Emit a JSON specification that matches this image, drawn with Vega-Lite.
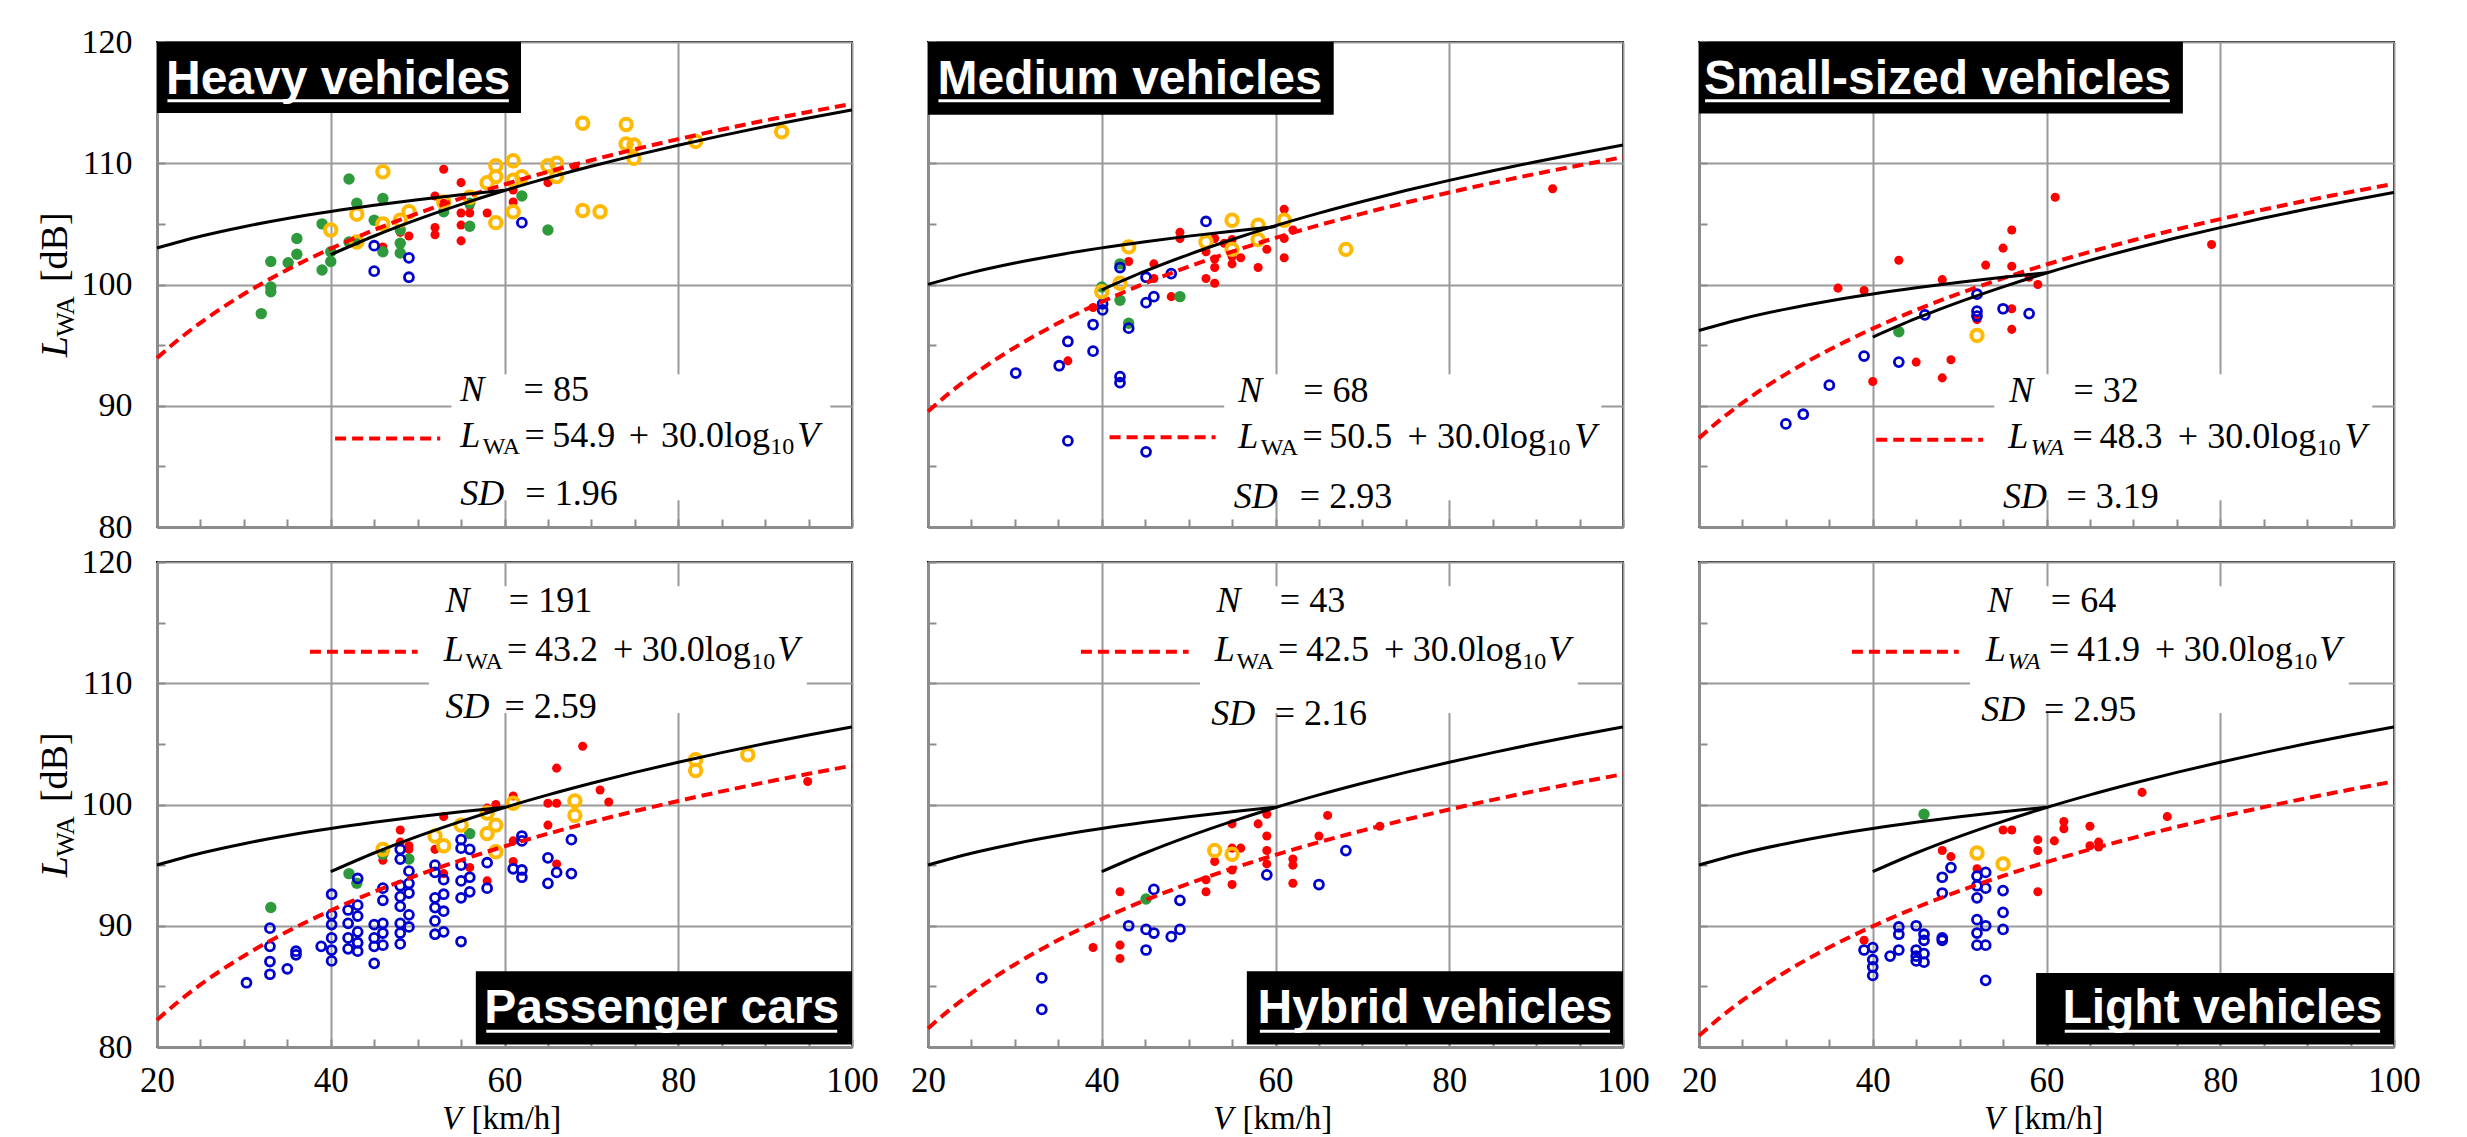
{
"$schema":"https://vega.github.io/schema/vega-lite/v6.json",
"background":"white",
"padding":{"left":35,"top":24,"right":5,"bottom":2},
"datasets":{"d":[
{"p":"H","k":"g","v":42.1,"l":108.7},{"p":"H","k":"g","v":43,"l":106.7},{"p":"H","k":"g","v":46,"l":107.1},{"p":"H","k":"g","v":39,"l":105},{"p":"H","k":"g","v":45,"l":105.3},{"p":"H","k":"g","v":36.1,"l":103.8},{"p":"H","k":"g","v":36.1,"l":102.5},{"p":"H","k":"g","v":33.1,"l":101.9},{"p":"H","k":"g","v":35.1,"l":101.8},{"p":"H","k":"g","v":40,"l":102.7},{"p":"H","k":"g","v":40,"l":101.9},{"p":"H","k":"g","v":39,"l":101.2},{"p":"H","k":"g","v":42.1,"l":103.5},{"p":"H","k":"g","v":43,"l":103.6},{"p":"H","k":"g","v":46,"l":102.7},{"p":"H","k":"g","v":48,"l":103.4},{"p":"H","k":"g","v":48,"l":102.6},{"p":"H","k":"g","v":48,"l":104.5},{"p":"H","k":"g","v":33.1,"l":99.8},{"p":"H","k":"g","v":33.1,"l":99.4},{"p":"H","k":"g","v":32,"l":97.6},{"p":"H","k":"g","v":53,"l":106},{"p":"H","k":"g","v":56,"l":106.7},{"p":"H","k":"g","v":56,"l":104.8},{"p":"H","k":"g","v":62,"l":107.3},{"p":"H","k":"g","v":65,"l":104.5},
{"p":"H","k":"r","v":53,"l":109.5},{"p":"H","k":"r","v":55,"l":108.4},{"p":"H","k":"r","v":52,"l":107.3},{"p":"H","k":"r","v":52,"l":104.7},{"p":"H","k":"r","v":52,"l":104.1},{"p":"H","k":"r","v":55,"l":105.9},{"p":"H","k":"r","v":56,"l":105.9},{"p":"H","k":"r","v":55,"l":104.9},{"p":"H","k":"r","v":55,"l":103.6},{"p":"H","k":"r","v":58,"l":105.9},{"p":"H","k":"r","v":61,"l":107.8},{"p":"H","k":"r","v":61,"l":106.8},{"p":"H","k":"r","v":65,"l":108.4},{"p":"H","k":"r","v":68.1,"l":109.7},{"p":"H","k":"r","v":49,"l":104},{"p":"H","k":"r","v":48,"l":104.3},{"p":"H","k":"r","v":46,"l":103.1},{"p":"H","k":"r","v":56,"l":106.5},{"p":"H","k":"r","v":53,"l":106.7},
{"p":"H","k":"b","v":45,"l":103.2},{"p":"H","k":"b","v":49,"l":102.2},{"p":"H","k":"b","v":45,"l":101.1},{"p":"H","k":"b","v":49,"l":100.6},{"p":"H","k":"b","v":62,"l":105.1},
{"p":"H","k":"o","v":69,"l":113.3},{"p":"H","k":"o","v":74,"l":113.2},{"p":"H","k":"o","v":74,"l":111.6},{"p":"H","k":"o","v":74.9,"l":111.5},{"p":"H","k":"o","v":74.9,"l":110.4},{"p":"H","k":"o","v":82,"l":111.8},{"p":"H","k":"o","v":91.9,"l":112.6},{"p":"H","k":"o","v":46,"l":109.3},{"p":"H","k":"o","v":59,"l":109.8},{"p":"H","k":"o","v":61,"l":110.2},{"p":"H","k":"o","v":59,"l":108.9},{"p":"H","k":"o","v":58,"l":108.4},{"p":"H","k":"o","v":61,"l":108.6},{"p":"H","k":"o","v":62,"l":108.9},{"p":"H","k":"o","v":65,"l":109.8},{"p":"H","k":"o","v":66,"l":110},{"p":"H","k":"o","v":66,"l":108.9},{"p":"H","k":"o","v":43,"l":105.8},{"p":"H","k":"o","v":40,"l":104.5},{"p":"H","k":"o","v":43,"l":103.5},{"p":"H","k":"o","v":46,"l":105},{"p":"H","k":"o","v":48,"l":105.3},{"p":"H","k":"o","v":49,"l":106},{"p":"H","k":"o","v":53,"l":106.8},{"p":"H","k":"o","v":56,"l":107.2},{"p":"H","k":"o","v":59,"l":105.1},{"p":"H","k":"o","v":61,"l":106},{"p":"H","k":"o","v":69,"l":106.1},{"p":"H","k":"o","v":71,"l":106},

{"p":"M","k":"b","v":30.1,"l":92.7},{"p":"M","k":"b","v":35.1,"l":93.3},{"p":"M","k":"b","v":36.1,"l":95.3},{"p":"M","k":"b","v":39,"l":96.7},{"p":"M","k":"b","v":39,"l":94.5},{"p":"M","k":"b","v":40.1,"l":97.9},{"p":"M","k":"b","v":40.1,"l":98.4},{"p":"M","k":"b","v":42.1,"l":101.4},{"p":"M","k":"b","v":45.1,"l":100.6},{"p":"M","k":"b","v":48,"l":100.9},{"p":"M","k":"b","v":46,"l":99},{"p":"M","k":"b","v":45.1,"l":98.5},{"p":"M","k":"b","v":43.1,"l":96.4},{"p":"M","k":"b","v":42.1,"l":92.4},{"p":"M","k":"b","v":42.1,"l":91.9},{"p":"M","k":"b","v":52,"l":105.2},{"p":"M","k":"b","v":36.1,"l":87.1},{"p":"M","k":"b","v":45.1,"l":86.2},
{"p":"M","k":"g","v":42.1,"l":101.7},{"p":"M","k":"g","v":40,"l":99.8},{"p":"M","k":"g","v":42.1,"l":98.7},{"p":"M","k":"g","v":43.1,"l":96.8},{"p":"M","k":"g","v":49,"l":99},
{"p":"M","k":"r","v":43.1,"l":101.9},{"p":"M","k":"r","v":46,"l":101.7},{"p":"M","k":"r","v":46,"l":100.5},{"p":"M","k":"r","v":48,"l":99},{"p":"M","k":"r","v":39,"l":98.1},{"p":"M","k":"r","v":36.1,"l":93.7},{"p":"M","k":"r","v":49,"l":104.3},{"p":"M","k":"r","v":49,"l":103.8},{"p":"M","k":"r","v":53,"l":103.8},{"p":"M","k":"r","v":52,"l":102.7},{"p":"M","k":"r","v":53,"l":102.1},{"p":"M","k":"r","v":53,"l":101.4},{"p":"M","k":"r","v":52,"l":100.5},{"p":"M","k":"r","v":53,"l":100.1},{"p":"M","k":"r","v":55,"l":103.7},{"p":"M","k":"r","v":55,"l":101.7},{"p":"M","k":"r","v":56,"l":102.2},{"p":"M","k":"r","v":55,"l":102.3},{"p":"M","k":"r","v":58,"l":101.4},{"p":"M","k":"r","v":59,"l":102.9},{"p":"M","k":"r","v":61,"l":106.2},{"p":"M","k":"r","v":61,"l":103.8},{"p":"M","k":"r","v":61,"l":102.2},{"p":"M","k":"r","v":62,"l":104.5},{"p":"M","k":"r","v":54.1,"l":103.4},{"p":"M","k":"r","v":91.9,"l":107.9},
{"p":"M","k":"o","v":43.1,"l":103.1},{"p":"M","k":"o","v":42.1,"l":100.1},{"p":"M","k":"o","v":40,"l":99.4},{"p":"M","k":"o","v":52,"l":103.5},{"p":"M","k":"o","v":55,"l":105.3},{"p":"M","k":"o","v":55,"l":102.9},{"p":"M","k":"o","v":58,"l":104.9},{"p":"M","k":"o","v":58,"l":103.7},{"p":"M","k":"o","v":61,"l":105.3},{"p":"M","k":"o","v":68.1,"l":102.9},

{"p":"S","k":"r","v":61,"l":107.2},{"p":"S","k":"r","v":56,"l":104.5},{"p":"S","k":"r","v":55,"l":103},{"p":"S","k":"r","v":43,"l":102},{"p":"S","k":"r","v":53,"l":101.6},{"p":"S","k":"r","v":56,"l":101.5},{"p":"S","k":"r","v":48,"l":100.4},{"p":"S","k":"r","v":58,"l":100.6},{"p":"S","k":"r","v":59,"l":100},{"p":"S","k":"r","v":36,"l":99.7},{"p":"S","k":"r","v":39,"l":99.5},{"p":"S","k":"r","v":79,"l":103.3},{"p":"S","k":"r","v":56,"l":98},{"p":"S","k":"r","v":52,"l":97.1},{"p":"S","k":"r","v":56,"l":96.3},{"p":"S","k":"r","v":45,"l":93.6},{"p":"S","k":"r","v":49,"l":93.8},{"p":"S","k":"r","v":48,"l":92.3},{"p":"S","k":"r","v":40,"l":92},
{"p":"S","k":"b","v":52,"l":99.2},{"p":"S","k":"b","v":52,"l":97.8},{"p":"S","k":"b","v":52,"l":97.4},{"p":"S","k":"b","v":55,"l":98},{"p":"S","k":"b","v":58,"l":97.6},{"p":"S","k":"b","v":46,"l":97.5},{"p":"S","k":"b","v":39,"l":94.1},{"p":"S","k":"b","v":43,"l":93.6},{"p":"S","k":"b","v":35,"l":91.7},{"p":"S","k":"b","v":32,"l":89.3},{"p":"S","k":"b","v":30,"l":88.5},
{"p":"S","k":"g","v":43,"l":96.1},{"p":"S","k":"o","v":52,"l":95.8},

{"p":"P","k":"r","v":48,"l":97.9},{"p":"P","k":"r","v":48,"l":96.9},{"p":"P","k":"r","v":49,"l":96.6},{"p":"P","k":"r","v":49,"l":96.3},{"p":"P","k":"r","v":46,"l":95.4},{"p":"P","k":"r","v":53,"l":99},{"p":"P","k":"r","v":52,"l":96.3},{"p":"P","k":"r","v":59,"l":100},{"p":"P","k":"r","v":61,"l":100.7},{"p":"P","k":"r","v":65,"l":100.1},{"p":"P","k":"r","v":66,"l":100.1},{"p":"P","k":"r","v":65,"l":98.3},{"p":"P","k":"r","v":61,"l":97},{"p":"P","k":"r","v":61,"l":95.3},{"p":"P","k":"r","v":58,"l":93.7},{"p":"P","k":"r","v":56,"l":94.8},{"p":"P","k":"r","v":66,"l":95.1},{"p":"P","k":"r","v":69,"l":104.8},{"p":"P","k":"r","v":66,"l":103},{"p":"P","k":"r","v":71,"l":101.2},{"p":"P","k":"r","v":72,"l":100.2},{"p":"P","k":"r","v":94.9,"l":101.9},{"p":"P","k":"r","v":53,"l":94.3},{"p":"P","k":"r","v":58,"l":99.7},
{"p":"P","k":"g","v":33.1,"l":91.5},{"p":"P","k":"g","v":42.1,"l":94.3},{"p":"P","k":"g","v":43,"l":93.5},{"p":"P","k":"g","v":49,"l":95.5},{"p":"P","k":"g","v":56,"l":97.6},{"p":"P","k":"g","v":46,"l":95.9},
{"p":"P","k":"b","v":33,"l":89.8},{"p":"P","k":"b","v":33,"l":88.3},{"p":"P","k":"b","v":33,"l":87.05},{"p":"P","k":"b","v":33,"l":86},{"p":"P","k":"b","v":30.3,"l":85.3},{"p":"P","k":"b","v":35,"l":86.45},{"p":"P","k":"b","v":36,"l":87.9},{"p":"P","k":"b","v":36,"l":87.6},{"p":"P","k":"b","v":38.9,"l":88.3},
{"p":"P","k":"b","v":40.1,"l":92.6},{"p":"P","k":"b","v":40.1,"l":90.9},{"p":"P","k":"b","v":40.1,"l":90.1},{"p":"P","k":"b","v":40.1,"l":89},{"p":"P","k":"b","v":40.1,"l":88},{"p":"P","k":"b","v":40.1,"l":87.1},
{"p":"P","k":"b","v":42,"l":91.3},{"p":"P","k":"b","v":42,"l":90.2},{"p":"P","k":"b","v":42,"l":89},{"p":"P","k":"b","v":42,"l":88.1},
{"p":"P","k":"b","v":43.1,"l":93.9},{"p":"P","k":"b","v":43.1,"l":91.7},{"p":"P","k":"b","v":43.1,"l":90.8},{"p":"P","k":"b","v":43.1,"l":89.5},{"p":"P","k":"b","v":43.1,"l":88.6},{"p":"P","k":"b","v":43.1,"l":87.9},
{"p":"P","k":"b","v":45,"l":90.1},{"p":"P","k":"b","v":45,"l":89},{"p":"P","k":"b","v":45,"l":88.3},{"p":"P","k":"b","v":45,"l":86.9},
{"p":"P","k":"b","v":46,"l":93.1},{"p":"P","k":"b","v":46,"l":92.1},{"p":"P","k":"b","v":46,"l":90.2},{"p":"P","k":"b","v":46,"l":89.4},{"p":"P","k":"b","v":46,"l":88.4},
{"p":"P","k":"b","v":48,"l":96.3},{"p":"P","k":"b","v":48,"l":95.5},{"p":"P","k":"b","v":48,"l":93.3},{"p":"P","k":"b","v":48,"l":92.4},{"p":"P","k":"b","v":48,"l":91.6},{"p":"P","k":"b","v":48,"l":90.2},{"p":"P","k":"b","v":48,"l":89.4},{"p":"P","k":"b","v":48,"l":88.5},
{"p":"P","k":"b","v":49,"l":94.5},{"p":"P","k":"b","v":49,"l":93.5},{"p":"P","k":"b","v":49,"l":92.7},{"p":"P","k":"b","v":49,"l":90.9},{"p":"P","k":"b","v":49,"l":89.9},
{"p":"P","k":"b","v":52,"l":95},{"p":"P","k":"b","v":52,"l":94.4},{"p":"P","k":"b","v":52,"l":92.3},{"p":"P","k":"b","v":52,"l":91.5},{"p":"P","k":"b","v":52,"l":90.4},{"p":"P","k":"b","v":52,"l":89.3},
{"p":"P","k":"b","v":53,"l":93.8},{"p":"P","k":"b","v":53,"l":92.6},{"p":"P","k":"b","v":53,"l":91.2},{"p":"P","k":"b","v":53,"l":89.5},
{"p":"P","k":"b","v":55,"l":97.1},{"p":"P","k":"b","v":55,"l":96.4},{"p":"P","k":"b","v":55,"l":95},{"p":"P","k":"b","v":55,"l":93.7},{"p":"P","k":"b","v":55,"l":92.3},{"p":"P","k":"b","v":55,"l":88.7},
{"p":"P","k":"b","v":56,"l":96.3},{"p":"P","k":"b","v":56,"l":94},{"p":"P","k":"b","v":56,"l":92.8},
{"p":"P","k":"b","v":58,"l":95.2},{"p":"P","k":"b","v":58,"l":93.1},{"p":"P","k":"b","v":61,"l":94.7},
{"p":"P","k":"b","v":62,"l":97.4},{"p":"P","k":"b","v":62,"l":97},{"p":"P","k":"b","v":62,"l":94.6},{"p":"P","k":"b","v":62,"l":94},
{"p":"P","k":"b","v":65,"l":95.6},{"p":"P","k":"b","v":65,"l":93.5},{"p":"P","k":"b","v":66,"l":94.4},{"p":"P","k":"b","v":67.7,"l":97.1},{"p":"P","k":"b","v":67.7,"l":94.3},
{"p":"P","k":"o","v":46,"l":96.3},{"p":"P","k":"o","v":52,"l":97.4},{"p":"P","k":"o","v":53,"l":96.6},{"p":"P","k":"o","v":55,"l":98.3},{"p":"P","k":"o","v":58,"l":99.3},{"p":"P","k":"o","v":59,"l":98.3},{"p":"P","k":"o","v":58,"l":97.6},{"p":"P","k":"o","v":59,"l":96.1},{"p":"P","k":"o","v":61,"l":100.1},{"p":"P","k":"o","v":68.1,"l":100.3},{"p":"P","k":"o","v":68.1,"l":99.1},{"p":"P","k":"o","v":82,"l":103.7},{"p":"P","k":"o","v":82,"l":102.8},{"p":"P","k":"o","v":88,"l":104.1},

{"p":"Y","k":"r","v":59,"l":99.2},{"p":"Y","k":"r","v":55,"l":98.4},{"p":"Y","k":"r","v":58,"l":98.4},{"p":"Y","k":"r","v":66,"l":99.1},{"p":"Y","k":"r","v":59,"l":97.4},{"p":"Y","k":"r","v":65,"l":97.4},{"p":"Y","k":"r","v":72,"l":98.2},{"p":"Y","k":"r","v":56,"l":96.4},{"p":"Y","k":"r","v":59,"l":96.2},{"p":"Y","k":"r","v":55,"l":96.4},{"p":"Y","k":"r","v":62,"l":95.5},{"p":"Y","k":"r","v":62,"l":95},{"p":"Y","k":"r","v":53,"l":95.3},{"p":"Y","k":"r","v":59,"l":95.1},{"p":"Y","k":"r","v":55,"l":94.6},{"p":"Y","k":"r","v":52,"l":93.8},{"p":"Y","k":"r","v":52,"l":92.8},{"p":"Y","k":"r","v":55,"l":93.4},{"p":"Y","k":"r","v":62,"l":93.5},{"p":"Y","k":"r","v":42.1,"l":92.8},{"p":"Y","k":"r","v":39,"l":88.2},{"p":"Y","k":"r","v":42.1,"l":88.4},{"p":"Y","k":"r","v":42.1,"l":87.3},
{"p":"Y","k":"b","v":46,"l":93},{"p":"Y","k":"b","v":49,"l":92.1},{"p":"Y","k":"b","v":43.1,"l":90},{"p":"Y","k":"b","v":45.1,"l":89.7},{"p":"Y","k":"b","v":46,"l":89.4},{"p":"Y","k":"b","v":48,"l":89.1},{"p":"Y","k":"b","v":49,"l":89.7},{"p":"Y","k":"b","v":45.1,"l":88},{"p":"Y","k":"b","v":59,"l":94.2},{"p":"Y","k":"b","v":65,"l":93.4},{"p":"Y","k":"b","v":68.1,"l":96.2},{"p":"Y","k":"b","v":33.1,"l":85.7},{"p":"Y","k":"b","v":33.1,"l":83.1},
{"p":"Y","k":"g","v":45.1,"l":92.2},{"p":"Y","k":"o","v":53,"l":96.2},{"p":"Y","k":"o","v":55,"l":95.9},

{"p":"L","k":"b","v":39,"l":88},{"p":"L","k":"b","v":40,"l":88.2},{"p":"L","k":"b","v":40,"l":87.2},{"p":"L","k":"b","v":40,"l":86.6},{"p":"L","k":"b","v":40,"l":85.9},{"p":"L","k":"b","v":42,"l":87.5},{"p":"L","k":"b","v":43,"l":89.9},{"p":"L","k":"b","v":43,"l":89.3},{"p":"L","k":"b","v":43,"l":88},{"p":"L","k":"b","v":45,"l":90},{"p":"L","k":"b","v":45,"l":88},{"p":"L","k":"b","v":45,"l":87.5},{"p":"L","k":"b","v":45,"l":87.1},{"p":"L","k":"b","v":45.9,"l":89.3},{"p":"L","k":"b","v":45.9,"l":88.8},{"p":"L","k":"b","v":45.9,"l":87.7},{"p":"L","k":"b","v":45.9,"l":87},{"p":"L","k":"b","v":48,"l":89},{"p":"L","k":"b","v":48,"l":88.8},{"p":"L","k":"b","v":48,"l":94},{"p":"L","k":"b","v":48,"l":92.7},{"p":"L","k":"b","v":49,"l":94.8},{"p":"L","k":"b","v":52,"l":94.1},{"p":"L","k":"b","v":52,"l":93.3},{"p":"L","k":"b","v":52,"l":92.3},{"p":"L","k":"b","v":52,"l":90.5},{"p":"L","k":"b","v":52,"l":89.4},{"p":"L","k":"b","v":52,"l":88.4},{"p":"L","k":"b","v":53,"l":94.4},{"p":"L","k":"b","v":53,"l":93.1},{"p":"L","k":"b","v":53,"l":90},{"p":"L","k":"b","v":53,"l":88.4},{"p":"L","k":"b","v":53,"l":85.5},{"p":"L","k":"b","v":55,"l":92.9},{"p":"L","k":"b","v":55,"l":91.1},{"p":"L","k":"b","v":55,"l":89.7},
{"p":"L","k":"r","v":39,"l":88.8},{"p":"L","k":"r","v":48,"l":96.2},{"p":"L","k":"r","v":49,"l":95.7},{"p":"L","k":"r","v":52,"l":94.7},{"p":"L","k":"r","v":55,"l":97.9},{"p":"L","k":"r","v":56,"l":97.9},{"p":"L","k":"r","v":59,"l":97.1},{"p":"L","k":"r","v":59,"l":96.2},{"p":"L","k":"r","v":59,"l":92.8},{"p":"L","k":"r","v":60.9,"l":97},{"p":"L","k":"r","v":62,"l":98.6},{"p":"L","k":"r","v":62,"l":98},{"p":"L","k":"r","v":65,"l":98.2},{"p":"L","k":"r","v":65,"l":96.6},{"p":"L","k":"r","v":66,"l":96.9},{"p":"L","k":"r","v":66,"l":96.5},{"p":"L","k":"r","v":71,"l":101},{"p":"L","k":"r","v":73.9,"l":99},
{"p":"L","k":"g","v":45.9,"l":99.2},{"p":"L","k":"o","v":52,"l":96},{"p":"L","k":"o","v":55,"l":95.1},

{"p":"H","k":"fit","v":20,"l":93.93},{"p":"H","k":"fit","v":22.5,"l":95.47},{"p":"H","k":"fit","v":25,"l":96.84},{"p":"H","k":"fit","v":27.5,"l":98.08},{"p":"H","k":"fit","v":30,"l":99.21},{"p":"H","k":"fit","v":35,"l":101.22},{"p":"H","k":"fit","v":40,"l":102.96},{"p":"H","k":"fit","v":45,"l":104.5},{"p":"H","k":"fit","v":50,"l":105.87},{"p":"H","k":"fit","v":55,"l":107.11},{"p":"H","k":"fit","v":60,"l":108.25},{"p":"H","k":"fit","v":65,"l":109.29},{"p":"H","k":"fit","v":70,"l":110.25},{"p":"H","k":"fit","v":75,"l":111.15},{"p":"H","k":"fit","v":80,"l":111.99},{"p":"H","k":"fit","v":85,"l":112.78},{"p":"H","k":"fit","v":90,"l":113.53},{"p":"H","k":"fit","v":95,"l":114.23},{"p":"H","k":"fit","v":100,"l":114.9},
{"p":"M","k":"fit","v":20,"l":89.53},{"p":"M","k":"fit","v":22.5,"l":91.07},{"p":"M","k":"fit","v":25,"l":92.44},{"p":"M","k":"fit","v":27.5,"l":93.68},{"p":"M","k":"fit","v":30,"l":94.81},{"p":"M","k":"fit","v":35,"l":96.82},{"p":"M","k":"fit","v":40,"l":98.56},{"p":"M","k":"fit","v":45,"l":100.1},{"p":"M","k":"fit","v":50,"l":101.47},{"p":"M","k":"fit","v":55,"l":102.71},{"p":"M","k":"fit","v":60,"l":103.85},{"p":"M","k":"fit","v":65,"l":104.89},{"p":"M","k":"fit","v":70,"l":105.85},{"p":"M","k":"fit","v":75,"l":106.75},{"p":"M","k":"fit","v":80,"l":107.59},{"p":"M","k":"fit","v":85,"l":108.38},{"p":"M","k":"fit","v":90,"l":109.13},{"p":"M","k":"fit","v":95,"l":109.83},{"p":"M","k":"fit","v":100,"l":110.5},
{"p":"S","k":"fit","v":20,"l":87.33},{"p":"S","k":"fit","v":22.5,"l":88.87},{"p":"S","k":"fit","v":25,"l":90.24},{"p":"S","k":"fit","v":27.5,"l":91.48},{"p":"S","k":"fit","v":30,"l":92.61},{"p":"S","k":"fit","v":35,"l":94.62},{"p":"S","k":"fit","v":40,"l":96.36},{"p":"S","k":"fit","v":45,"l":97.9},{"p":"S","k":"fit","v":50,"l":99.27},{"p":"S","k":"fit","v":55,"l":100.51},{"p":"S","k":"fit","v":60,"l":101.65},{"p":"S","k":"fit","v":65,"l":102.69},{"p":"S","k":"fit","v":70,"l":103.65},{"p":"S","k":"fit","v":75,"l":104.55},{"p":"S","k":"fit","v":80,"l":105.39},{"p":"S","k":"fit","v":85,"l":106.18},{"p":"S","k":"fit","v":90,"l":106.93},{"p":"S","k":"fit","v":95,"l":107.63},{"p":"S","k":"fit","v":100,"l":108.3},
{"p":"P","k":"fit","v":20,"l":82.23},{"p":"P","k":"fit","v":22.5,"l":83.77},{"p":"P","k":"fit","v":25,"l":85.14},{"p":"P","k":"fit","v":27.5,"l":86.38},{"p":"P","k":"fit","v":30,"l":87.51},{"p":"P","k":"fit","v":35,"l":89.52},{"p":"P","k":"fit","v":40,"l":91.26},{"p":"P","k":"fit","v":45,"l":92.8},{"p":"P","k":"fit","v":50,"l":94.17},{"p":"P","k":"fit","v":55,"l":95.41},{"p":"P","k":"fit","v":60,"l":96.55},{"p":"P","k":"fit","v":65,"l":97.59},{"p":"P","k":"fit","v":70,"l":98.55},{"p":"P","k":"fit","v":75,"l":99.45},{"p":"P","k":"fit","v":80,"l":100.29},{"p":"P","k":"fit","v":85,"l":101.08},{"p":"P","k":"fit","v":90,"l":101.83},{"p":"P","k":"fit","v":95,"l":102.53},{"p":"P","k":"fit","v":100,"l":103.2},
{"p":"Y","k":"fit","v":20,"l":81.53},{"p":"Y","k":"fit","v":22.5,"l":83.07},{"p":"Y","k":"fit","v":25,"l":84.44},{"p":"Y","k":"fit","v":27.5,"l":85.68},{"p":"Y","k":"fit","v":30,"l":86.81},{"p":"Y","k":"fit","v":35,"l":88.82},{"p":"Y","k":"fit","v":40,"l":90.56},{"p":"Y","k":"fit","v":45,"l":92.1},{"p":"Y","k":"fit","v":50,"l":93.47},{"p":"Y","k":"fit","v":55,"l":94.71},{"p":"Y","k":"fit","v":60,"l":95.85},{"p":"Y","k":"fit","v":65,"l":96.89},{"p":"Y","k":"fit","v":70,"l":97.85},{"p":"Y","k":"fit","v":75,"l":98.75},{"p":"Y","k":"fit","v":80,"l":99.59},{"p":"Y","k":"fit","v":85,"l":100.38},{"p":"Y","k":"fit","v":90,"l":101.13},{"p":"Y","k":"fit","v":95,"l":101.83},{"p":"Y","k":"fit","v":100,"l":102.5},
{"p":"L","k":"fit","v":20,"l":80.93},{"p":"L","k":"fit","v":22.5,"l":82.47},{"p":"L","k":"fit","v":25,"l":83.84},{"p":"L","k":"fit","v":27.5,"l":85.08},{"p":"L","k":"fit","v":30,"l":86.21},{"p":"L","k":"fit","v":35,"l":88.22},{"p":"L","k":"fit","v":40,"l":89.96},{"p":"L","k":"fit","v":45,"l":91.5},{"p":"L","k":"fit","v":50,"l":92.87},{"p":"L","k":"fit","v":55,"l":94.11},{"p":"L","k":"fit","v":60,"l":95.25},{"p":"L","k":"fit","v":65,"l":96.29},{"p":"L","k":"fit","v":70,"l":97.25},{"p":"L","k":"fit","v":75,"l":98.15},{"p":"L","k":"fit","v":80,"l":98.99},{"p":"L","k":"fit","v":85,"l":99.78},{"p":"L","k":"fit","v":90,"l":100.53},{"p":"L","k":"fit","v":95,"l":101.23},{"p":"L","k":"fit","v":100,"l":101.9},

{"p":"H","k":"ref","s":"ns","v":20,"l":103.01},{"p":"H","k":"ref","s":"ns","v":25,"l":103.98},{"p":"H","k":"ref","s":"ns","v":30,"l":104.77},{"p":"H","k":"ref","s":"ns","v":35,"l":105.44},{"p":"H","k":"ref","s":"ns","v":40,"l":106.02},{"p":"H","k":"ref","s":"ns","v":45,"l":106.53},{"p":"H","k":"ref","s":"ns","v":50,"l":106.99},{"p":"H","k":"ref","s":"ns","v":55,"l":107.4},{"p":"H","k":"ref","s":"ns","v":60,"l":107.78},
{"p":"H","k":"ref","s":"st","v":40,"l":102.46},{"p":"H","k":"ref","s":"st","v":45,"l":104},{"p":"H","k":"ref","s":"st","v":50,"l":105.37},{"p":"H","k":"ref","s":"st","v":55,"l":106.61},{"p":"H","k":"ref","s":"st","v":60,"l":107.75},{"p":"H","k":"ref","s":"st","v":65,"l":108.79},{"p":"H","k":"ref","s":"st","v":70,"l":109.75},{"p":"H","k":"ref","s":"st","v":75,"l":110.65},{"p":"H","k":"ref","s":"st","v":80,"l":111.49},{"p":"H","k":"ref","s":"st","v":85,"l":112.28},{"p":"H","k":"ref","s":"st","v":90,"l":113.03},{"p":"H","k":"ref","s":"st","v":95,"l":113.73},{"p":"H","k":"ref","s":"st","v":100,"l":114.4},
{"p":"M","k":"ref","s":"ns","v":20,"l":100.01},{"p":"M","k":"ref","s":"ns","v":25,"l":100.98},{"p":"M","k":"ref","s":"ns","v":30,"l":101.77},{"p":"M","k":"ref","s":"ns","v":35,"l":102.44},{"p":"M","k":"ref","s":"ns","v":40,"l":103.02},{"p":"M","k":"ref","s":"ns","v":45,"l":103.53},{"p":"M","k":"ref","s":"ns","v":50,"l":103.99},{"p":"M","k":"ref","s":"ns","v":55,"l":104.4},{"p":"M","k":"ref","s":"ns","v":60,"l":104.78},
{"p":"M","k":"ref","s":"st","v":40,"l":99.56},{"p":"M","k":"ref","s":"st","v":45,"l":101.1},{"p":"M","k":"ref","s":"st","v":50,"l":102.47},{"p":"M","k":"ref","s":"st","v":55,"l":103.71},{"p":"M","k":"ref","s":"st","v":60,"l":104.85},{"p":"M","k":"ref","s":"st","v":65,"l":105.89},{"p":"M","k":"ref","s":"st","v":70,"l":106.85},{"p":"M","k":"ref","s":"st","v":75,"l":107.75},{"p":"M","k":"ref","s":"st","v":80,"l":108.59},{"p":"M","k":"ref","s":"st","v":85,"l":109.38},{"p":"M","k":"ref","s":"st","v":90,"l":110.13},{"p":"M","k":"ref","s":"st","v":95,"l":110.83},{"p":"M","k":"ref","s":"st","v":100,"l":111.5},
{"p":"S","k":"ref","s":"ns","v":20,"l":96.21},{"p":"S","k":"ref","s":"ns","v":25,"l":97.18},{"p":"S","k":"ref","s":"ns","v":30,"l":97.97},{"p":"S","k":"ref","s":"ns","v":35,"l":98.64},{"p":"S","k":"ref","s":"ns","v":40,"l":99.22},{"p":"S","k":"ref","s":"ns","v":45,"l":99.73},{"p":"S","k":"ref","s":"ns","v":50,"l":100.19},{"p":"S","k":"ref","s":"ns","v":55,"l":100.6},{"p":"S","k":"ref","s":"ns","v":60,"l":100.98},
{"p":"S","k":"ref","s":"st","v":40,"l":95.66},{"p":"S","k":"ref","s":"st","v":45,"l":97.2},{"p":"S","k":"ref","s":"st","v":50,"l":98.57},{"p":"S","k":"ref","s":"st","v":55,"l":99.81},{"p":"S","k":"ref","s":"st","v":60,"l":100.95},{"p":"S","k":"ref","s":"st","v":65,"l":101.99},{"p":"S","k":"ref","s":"st","v":70,"l":102.95},{"p":"S","k":"ref","s":"st","v":75,"l":103.85},{"p":"S","k":"ref","s":"st","v":80,"l":104.69},{"p":"S","k":"ref","s":"st","v":85,"l":105.48},{"p":"S","k":"ref","s":"st","v":90,"l":106.23},{"p":"S","k":"ref","s":"st","v":95,"l":106.93},{"p":"S","k":"ref","s":"st","v":100,"l":107.6},
{"p":"P","k":"ref","s":"ns","v":20,"l":95.01},{"p":"P","k":"ref","s":"ns","v":25,"l":95.98},{"p":"P","k":"ref","s":"ns","v":30,"l":96.77},{"p":"P","k":"ref","s":"ns","v":35,"l":97.44},{"p":"P","k":"ref","s":"ns","v":40,"l":98.02},{"p":"P","k":"ref","s":"ns","v":45,"l":98.53},{"p":"P","k":"ref","s":"ns","v":50,"l":98.99},{"p":"P","k":"ref","s":"ns","v":55,"l":99.4},{"p":"P","k":"ref","s":"ns","v":60,"l":99.78},
{"p":"P","k":"ref","s":"st","v":40,"l":94.46},{"p":"P","k":"ref","s":"st","v":45,"l":96},{"p":"P","k":"ref","s":"st","v":50,"l":97.37},{"p":"P","k":"ref","s":"st","v":55,"l":98.61},{"p":"P","k":"ref","s":"st","v":60,"l":99.75},{"p":"P","k":"ref","s":"st","v":65,"l":100.79},{"p":"P","k":"ref","s":"st","v":70,"l":101.75},{"p":"P","k":"ref","s":"st","v":75,"l":102.65},{"p":"P","k":"ref","s":"st","v":80,"l":103.49},{"p":"P","k":"ref","s":"st","v":85,"l":104.28},{"p":"P","k":"ref","s":"st","v":90,"l":105.03},{"p":"P","k":"ref","s":"st","v":95,"l":105.73},{"p":"P","k":"ref","s":"st","v":100,"l":106.4},
{"p":"Y","k":"ref","s":"ns","v":20,"l":95.01},{"p":"Y","k":"ref","s":"ns","v":25,"l":95.98},{"p":"Y","k":"ref","s":"ns","v":30,"l":96.77},{"p":"Y","k":"ref","s":"ns","v":35,"l":97.44},{"p":"Y","k":"ref","s":"ns","v":40,"l":98.02},{"p":"Y","k":"ref","s":"ns","v":45,"l":98.53},{"p":"Y","k":"ref","s":"ns","v":50,"l":98.99},{"p":"Y","k":"ref","s":"ns","v":55,"l":99.4},{"p":"Y","k":"ref","s":"ns","v":60,"l":99.78},
{"p":"Y","k":"ref","s":"st","v":40,"l":94.46},{"p":"Y","k":"ref","s":"st","v":45,"l":96},{"p":"Y","k":"ref","s":"st","v":50,"l":97.37},{"p":"Y","k":"ref","s":"st","v":55,"l":98.61},{"p":"Y","k":"ref","s":"st","v":60,"l":99.75},{"p":"Y","k":"ref","s":"st","v":65,"l":100.79},{"p":"Y","k":"ref","s":"st","v":70,"l":101.75},{"p":"Y","k":"ref","s":"st","v":75,"l":102.65},{"p":"Y","k":"ref","s":"st","v":80,"l":103.49},{"p":"Y","k":"ref","s":"st","v":85,"l":104.28},{"p":"Y","k":"ref","s":"st","v":90,"l":105.03},{"p":"Y","k":"ref","s":"st","v":95,"l":105.73},{"p":"Y","k":"ref","s":"st","v":100,"l":106.4},
{"p":"L","k":"ref","s":"ns","v":20,"l":95.01},{"p":"L","k":"ref","s":"ns","v":25,"l":95.98},{"p":"L","k":"ref","s":"ns","v":30,"l":96.77},{"p":"L","k":"ref","s":"ns","v":35,"l":97.44},{"p":"L","k":"ref","s":"ns","v":40,"l":98.02},{"p":"L","k":"ref","s":"ns","v":45,"l":98.53},{"p":"L","k":"ref","s":"ns","v":50,"l":98.99},{"p":"L","k":"ref","s":"ns","v":55,"l":99.4},{"p":"L","k":"ref","s":"ns","v":60,"l":99.78},
{"p":"L","k":"ref","s":"st","v":40,"l":94.46},{"p":"L","k":"ref","s":"st","v":45,"l":96},{"p":"L","k":"ref","s":"st","v":50,"l":97.37},{"p":"L","k":"ref","s":"st","v":55,"l":98.61},{"p":"L","k":"ref","s":"st","v":60,"l":99.75},{"p":"L","k":"ref","s":"st","v":65,"l":100.79},{"p":"L","k":"ref","s":"st","v":70,"l":101.75},{"p":"L","k":"ref","s":"st","v":75,"l":102.65},{"p":"L","k":"ref","s":"st","v":80,"l":103.49},{"p":"L","k":"ref","s":"st","v":85,"l":104.28},{"p":"L","k":"ref","s":"st","v":90,"l":105.03},{"p":"L","k":"ref","s":"st","v":95,"l":105.73},{"p":"L","k":"ref","s":"st","v":100,"l":106.4},

{"p":"H","k":"wb","v":53.9,"v2":97.5,"l":82.2,"l2":92.6},
{"p":"H","k":"lg","v":40.5,"v2":52.6,"l":87.3},
{"p":"H","k":"tb","v":20,"v2":61.9,"l":114.15,"l2":120},
{"p":"H","k":"tt","v":40.85,"l":115.7,"t":"Heavy vehicles"},
{"p":"H","k":"tu","v":21.2,"v2":60.5,"l":115.15},
{"p":"H","k":"ai","v":54.9,"l":90.4,"t":"N"},{"p":"H","k":"ai","v":54.9,"l":86.6,"t":"L"},{"p":"H","k":"ai","v":93.7,"l":86.6,"t":"V"},{"p":"H","k":"ai","v":54.9,"l":81.8,"t":"SD"},
{"p":"H","k":"an","v":62.2,"l":90.4,"t":"= 85"},{"p":"H","k":"an","v":62.3,"l":86.6,"t":"="},{"p":"H","k":"an","v":65.5,"l":86.6,"t":"54.9"},{"p":"H","k":"an","v":74.3,"l":86.6,"t":"+"},{"p":"H","k":"an","v":78.0,"l":86.6,"t":"30.0log"},{"p":"H","k":"an","v":62.4,"l":81.8,"t":"= 1.96"},
{"p":"H","k":"as","v":57.5,"l":86.0,"t":"WA"},{"p":"H","k":"as","v":90.6,"l":86.0,"t":"10"},
{"p":"H","k":"yi","v":9.6,"l":94.0,"t":"L"},{"p":"H","k":"ys","v":10.4,"l":95.7,"t":"WA"},{"p":"H","k":"yn","v":9.6,"l":100.2,"t":"[dB]"},

{"p":"M","k":"wb","v":54.1,"v2":97.5,"l":82.2,"l2":92.6},
{"p":"M","k":"lg","v":40.9,"v2":53.1,"l":87.4},
{"p":"M","k":"tb","v":20,"v2":66.7,"l":114.0,"l2":120},
{"p":"M","k":"tt","v":43.2,"l":115.7,"t":"Medium vehicles"},
{"p":"M","k":"tu","v":21.2,"v2":65.2,"l":115.15},
{"p":"M","k":"ai","v":55.7,"l":90.3,"t":"N"},{"p":"M","k":"ai","v":55.7,"l":86.5,"t":"L"},{"p":"M","k":"ai","v":94.4,"l":86.5,"t":"V"},{"p":"M","k":"ai","v":55.2,"l":81.6,"t":"SD"},
{"p":"M","k":"an","v":63.2,"l":90.3,"t":"= 68"},{"p":"M","k":"an","v":63.1,"l":86.5,"t":"="},{"p":"M","k":"an","v":66.2,"l":86.5,"t":"50.5"},{"p":"M","k":"an","v":75.2,"l":86.5,"t":"+"},{"p":"M","k":"an","v":78.6,"l":86.5,"t":"30.0log"},{"p":"M","k":"an","v":62.8,"l":81.6,"t":"= 2.93"},
{"p":"M","k":"as","v":58.3,"l":85.9,"t":"WA"},{"p":"M","k":"as","v":91.2,"l":85.9,"t":"10"},

{"p":"S","k":"wb","v":54.0,"v2":97.5,"l":82.2,"l2":92.6},
{"p":"S","k":"lg","v":40.4,"v2":52.7,"l":87.2},
{"p":"S","k":"tb","v":20,"v2":75.7,"l":114.1,"l2":120},
{"p":"S","k":"tt","v":47.45,"l":115.7,"t":"Small-sized vehicles"},
{"p":"S","k":"tu","v":20.7,"v2":74.2,"l":115.15},
{"p":"S","k":"ai","v":55.7,"l":90.3,"t":"N"},{"p":"S","k":"ai","v":55.6,"l":86.5,"t":"L"},{"p":"S","k":"ai","v":94.3,"l":86.5,"t":"V"},{"p":"S","k":"ai","v":55.0,"l":81.6,"t":"SD"},
{"p":"S","k":"an","v":63.1,"l":90.3,"t":"= 32"},{"p":"S","k":"an","v":63.0,"l":86.5,"t":"="},{"p":"S","k":"an","v":66.1,"l":86.5,"t":"48.3"},{"p":"S","k":"an","v":75.1,"l":86.5,"t":"+"},{"p":"S","k":"an","v":78.5,"l":86.5,"t":"30.0log"},{"p":"S","k":"an","v":62.3,"l":81.6,"t":"= 3.19"},
{"p":"S","k":"asi","v":58.2,"l":85.9,"t":"WA"},{"p":"S","k":"as","v":91.1,"l":85.9,"t":"10"},

{"p":"P","k":"wb","v":51.3,"v2":94.8,"l":107.55,"l2":118},
{"p":"P","k":"lg","v":37.6,"v2":50.0,"l":112.6},
{"p":"P","k":"tb","v":56.7,"v2":100,"l":80.2,"l2":86.25},
{"p":"P","k":"tt","v":78.1,"l":82.0,"t":"Passenger cars"},
{"p":"P","k":"tu","v":57.9,"v2":98.3,"l":81.3},
{"p":"P","k":"ai","v":53.2,"l":115.85,"t":"N"},{"p":"P","k":"ai","v":53.0,"l":111.85,"t":"L"},{"p":"P","k":"ai","v":91.4,"l":111.85,"t":"V"},{"p":"P","k":"ai","v":53.2,"l":107.15,"t":"SD"},
{"p":"P","k":"xi","v":52.8,"l":73.2,"t":"V"},
{"p":"P","k":"an","v":60.5,"l":115.85,"t":"= 191"},{"p":"P","k":"an","v":60.3,"l":111.85,"t":"="},{"p":"P","k":"an","v":63.5,"l":111.85,"t":"43.2"},{"p":"P","k":"an","v":72.5,"l":111.85,"t":"+"},{"p":"P","k":"an","v":75.8,"l":111.85,"t":"30.0log"},{"p":"P","k":"an","v":60.0,"l":107.15,"t":"= 2.59"},
{"p":"P","k":"xn","v":56.2,"l":73.2,"t":"[km/h]"},
{"p":"P","k":"as","v":55.5,"l":111.2,"t":"WA"},{"p":"P","k":"as","v":88.4,"l":111.2,"t":"10"},
{"p":"P","k":"yi","v":9.6,"l":94.0,"t":"L"},{"p":"P","k":"ys","v":10.4,"l":95.7,"t":"WA"},{"p":"P","k":"yn","v":9.6,"l":100.2,"t":"[dB]"},

{"p":"Y","k":"wb","v":51.3,"v2":94.8,"l":107.55,"l2":118},
{"p":"Y","k":"lg","v":37.6,"v2":50.0,"l":112.6},
{"p":"Y","k":"tb","v":56.7,"v2":100,"l":80.2,"l2":86.25},
{"p":"Y","k":"tt","v":78.35,"l":82.0,"t":"Hybrid vehicles"},
{"p":"Y","k":"tu","v":58.2,"v2":98.5,"l":81.3},
{"p":"Y","k":"ai","v":53.2,"l":115.85,"t":"N"},{"p":"Y","k":"ai","v":53.0,"l":111.85,"t":"L"},{"p":"Y","k":"ai","v":91.4,"l":111.85,"t":"V"},{"p":"Y","k":"ai","v":52.6,"l":106.55,"t":"SD"},
{"p":"Y","k":"xi","v":52.8,"l":73.2,"t":"V"},
{"p":"Y","k":"an","v":60.5,"l":115.85,"t":"= 43"},{"p":"Y","k":"an","v":60.3,"l":111.85,"t":"="},{"p":"Y","k":"an","v":63.5,"l":111.85,"t":"42.5"},{"p":"Y","k":"an","v":72.5,"l":111.85,"t":"+"},{"p":"Y","k":"an","v":75.8,"l":111.85,"t":"30.0log"},{"p":"Y","k":"an","v":59.9,"l":106.55,"t":"= 2.16"},
{"p":"Y","k":"xn","v":56.2,"l":73.2,"t":"[km/h]"},
{"p":"Y","k":"as","v":55.5,"l":111.2,"t":"WA"},{"p":"Y","k":"as","v":88.4,"l":111.2,"t":"10"},

{"p":"L","k":"wb","v":51.2,"v2":94.8,"l":107.55,"l2":118},
{"p":"L","k":"lg","v":37.6,"v2":49.9,"l":112.6},
{"p":"L","k":"tb","v":58.8,"v2":100,"l":80.2,"l2":86.1},
{"p":"L","k":"tt","v":80.25,"l":82.0,"t":"Light vehicles"},
{"p":"L","k":"tu","v":62.1,"v2":98.4,"l":81.3},
{"p":"L","k":"ai","v":53.2,"l":115.85,"t":"N"},{"p":"L","k":"ai","v":53.0,"l":111.85,"t":"L"},{"p":"L","k":"ai","v":91.4,"l":111.85,"t":"V"},{"p":"L","k":"ai","v":52.5,"l":106.9,"t":"SD"},
{"p":"L","k":"xi","v":52.8,"l":73.2,"t":"V"},
{"p":"L","k":"an","v":60.5,"l":115.85,"t":"= 64"},{"p":"L","k":"an","v":60.3,"l":111.85,"t":"="},{"p":"L","k":"an","v":63.5,"l":111.85,"t":"41.9"},{"p":"L","k":"an","v":72.5,"l":111.85,"t":"+"},{"p":"L","k":"an","v":75.8,"l":111.85,"t":"30.0log"},{"p":"L","k":"an","v":59.7,"l":106.9,"t":"= 2.95"},
{"p":"L","k":"xn","v":56.2,"l":73.2,"t":"[km/h]"},
{"p":"L","k":"asi","v":55.5,"l":111.2,"t":"WA"},{"p":"L","k":"as","v":88.4,"l":111.2,"t":"10"}
]},
"columns":3,
"spacing":{"row":35,"column":76},
"bounds":"flush",
"concat":[
{"width":695,"height":485,"data":{"name":"d"},"transform":[{"filter":"datum.p==='H'"}],
"encoding":{"x":{"field":"v","type":"quantitative","scale":{"domain":[20,100],"nice":false,"zero":false},"axis":{"title":null,"values":[20,25,30,35,40,45,50,55,60,65,70,75,80,85,90,95,100],"labels":false,"gridOpacity":{"condition":{"test":"datum.value % 20 === 0","value":1},"value":0}}},
"y":{"field":"l","type":"quantitative","scale":{"domain":[80,120],"nice":false,"zero":false},"axis":{"title":null,"values":[80,85,90,95,100,105,110,115,120],"labelExpr":"datum.value % 10 === 0 ? datum.label : ''","labelFontSize":34,"labelPadding":33,"gridOpacity":{"condition":{"test":"datum.value % 10 === 0","value":1},"value":0}}}},
"layer":[
{"transform":[{"filter":"datum.k==='wb'"}],"mark":{"type":"rect","fill":"white"},"encoding":{"x2":{"field":"v2"},"y2":{"field":"l2"}}},
{"transform":[{"filter":"datum.k==='r'"}],"mark":{"type":"circle","color":"#ff0000","size":82,"opacity":1}},
{"transform":[{"filter":"datum.k==='g'"}],"mark":{"type":"circle","color":"#2f9a3c","size":130,"opacity":1}},
{"transform":[{"filter":"datum.k==='b'"}],"mark":{"type":"point","shape":"circle","filled":false,"color":"#0000cc","strokeWidth":2.8,"size":80,"opacity":1}},
{"transform":[{"filter":"datum.k==='o'"}],"mark":{"type":"point","shape":"circle","filled":false,"color":"#ffb900","strokeWidth":4,"size":130,"opacity":1}},
{"transform":[{"filter":"datum.k==='fit'"}],"mark":{"type":"line","color":"#ff0000","strokeWidth":4,"strokeDash":[11,6],"interpolate":"monotone"}},
{"transform":[{"filter":"datum.k==='ref'"}],"mark":{"type":"line","color":"black","strokeWidth":3,"interpolate":"monotone"},"encoding":{"detail":{"field":"s"}}},
{"transform":[{"filter":"datum.k==='lg'"}],"mark":{"type":"rule","color":"#ff0000","strokeWidth":4,"strokeDash":[11,6]},"encoding":{"x2":{"field":"v2"}}},
{"transform":[{"filter":"datum.k==='tb'"}],"mark":{"type":"rect","fill":"black"},"encoding":{"x2":{"field":"v2"},"y2":{"field":"l2"}}},
{"transform":[{"filter":"datum.k==='tt'"}],"mark":{"type":"text","font":"Liberation Sans, Arial, sans-serif","fontWeight":"bold","fontSize":48,"color":"white","align":"center","baseline":"alphabetic"},"encoding":{"text":{"field":"t"}}},
{"transform":[{"filter":"datum.k==='tu'"}],"mark":{"type":"rule","color":"white","strokeWidth":3},"encoding":{"x2":{"field":"v2"}}},
{"transform":[{"filter":"datum.k==='ai'"}],"mark":{"type":"text","font":"Liberation Serif, Times New Roman, serif","fontStyle":"italic","fontSize":36,"color":"black","align":"left","baseline":"alphabetic"},"encoding":{"text":{"field":"t"}}},
{"transform":[{"filter":"datum.k==='an'"}],"mark":{"type":"text","font":"Liberation Serif, Times New Roman, serif","fontSize":36,"color":"black","align":"left","baseline":"alphabetic"},"encoding":{"text":{"field":"t"}}},
{"transform":[{"filter":"datum.k==='as'"}],"mark":{"type":"text","font":"Liberation Serif, Times New Roman, serif","fontSize":24,"color":"black","align":"left","baseline":"alphabetic"},"encoding":{"text":{"field":"t"}}},
{"transform":[{"filter":"datum.k==='asi'"}],"mark":{"type":"text","font":"Liberation Serif, Times New Roman, serif","fontStyle":"italic","fontSize":24,"color":"black","align":"left","baseline":"alphabetic"},"encoding":{"text":{"field":"t"}}},
{"transform":[{"filter":"datum.k==='yi'"}],"mark":{"type":"text","font":"Liberation Serif, Times New Roman, serif","fontStyle":"italic","fontSize":38,"color":"black","align":"left","baseline":"alphabetic","angle":270},"encoding":{"text":{"field":"t"}}},
{"transform":[{"filter":"datum.k==='ys'"}],"mark":{"type":"text","font":"Liberation Serif, Times New Roman, serif","fontSize":26,"color":"black","align":"left","baseline":"alphabetic","angle":270},"encoding":{"text":{"field":"t"}}},
{"transform":[{"filter":"datum.k==='yn'"}],"mark":{"type":"text","font":"Liberation Serif, Times New Roman, serif","fontSize":38,"color":"black","align":"left","baseline":"alphabetic","angle":270},"encoding":{"text":{"field":"t"}}}
]},
{"width":695,"height":485,"data":{"name":"d"},"transform":[{"filter":"datum.p==='M'"}],
"encoding":{"x":{"field":"v","type":"quantitative","scale":{"domain":[20,100],"nice":false,"zero":false},"axis":{"title":null,"values":[20,25,30,35,40,45,50,55,60,65,70,75,80,85,90,95,100],"labels":false,"gridOpacity":{"condition":{"test":"datum.value % 20 === 0","value":1},"value":0}}},
"y":{"field":"l","type":"quantitative","scale":{"domain":[80,120],"nice":false,"zero":false},"axis":{"title":null,"values":[80,85,90,95,100,105,110,115,120],"labels":false,"gridOpacity":{"condition":{"test":"datum.value % 10 === 0","value":1},"value":0}}}},
"layer":[
{"transform":[{"filter":"datum.k==='wb'"}],"mark":{"type":"rect","fill":"white"},"encoding":{"x2":{"field":"v2"},"y2":{"field":"l2"}}},
{"transform":[{"filter":"datum.k==='r'"}],"mark":{"type":"circle","color":"#ff0000","size":82,"opacity":1}},
{"transform":[{"filter":"datum.k==='g'"}],"mark":{"type":"circle","color":"#2f9a3c","size":130,"opacity":1}},
{"transform":[{"filter":"datum.k==='b'"}],"mark":{"type":"point","shape":"circle","filled":false,"color":"#0000cc","strokeWidth":2.8,"size":80,"opacity":1}},
{"transform":[{"filter":"datum.k==='o'"}],"mark":{"type":"point","shape":"circle","filled":false,"color":"#ffb900","strokeWidth":4,"size":130,"opacity":1}},
{"transform":[{"filter":"datum.k==='fit'"}],"mark":{"type":"line","color":"#ff0000","strokeWidth":4,"strokeDash":[11,6],"interpolate":"monotone"}},
{"transform":[{"filter":"datum.k==='ref'"}],"mark":{"type":"line","color":"black","strokeWidth":3,"interpolate":"monotone"},"encoding":{"detail":{"field":"s"}}},
{"transform":[{"filter":"datum.k==='lg'"}],"mark":{"type":"rule","color":"#ff0000","strokeWidth":4,"strokeDash":[11,6]},"encoding":{"x2":{"field":"v2"}}},
{"transform":[{"filter":"datum.k==='tb'"}],"mark":{"type":"rect","fill":"black"},"encoding":{"x2":{"field":"v2"},"y2":{"field":"l2"}}},
{"transform":[{"filter":"datum.k==='tt'"}],"mark":{"type":"text","font":"Liberation Sans, Arial, sans-serif","fontWeight":"bold","fontSize":48,"color":"white","align":"center","baseline":"alphabetic"},"encoding":{"text":{"field":"t"}}},
{"transform":[{"filter":"datum.k==='tu'"}],"mark":{"type":"rule","color":"white","strokeWidth":3},"encoding":{"x2":{"field":"v2"}}},
{"transform":[{"filter":"datum.k==='ai'"}],"mark":{"type":"text","font":"Liberation Serif, Times New Roman, serif","fontStyle":"italic","fontSize":36,"color":"black","align":"left","baseline":"alphabetic"},"encoding":{"text":{"field":"t"}}},
{"transform":[{"filter":"datum.k==='an'"}],"mark":{"type":"text","font":"Liberation Serif, Times New Roman, serif","fontSize":36,"color":"black","align":"left","baseline":"alphabetic"},"encoding":{"text":{"field":"t"}}},
{"transform":[{"filter":"datum.k==='as'"}],"mark":{"type":"text","font":"Liberation Serif, Times New Roman, serif","fontSize":24,"color":"black","align":"left","baseline":"alphabetic"},"encoding":{"text":{"field":"t"}}},
{"transform":[{"filter":"datum.k==='asi'"}],"mark":{"type":"text","font":"Liberation Serif, Times New Roman, serif","fontStyle":"italic","fontSize":24,"color":"black","align":"left","baseline":"alphabetic"},"encoding":{"text":{"field":"t"}}}
]},
{"width":695,"height":485,"data":{"name":"d"},"transform":[{"filter":"datum.p==='S'"}],
"encoding":{"x":{"field":"v","type":"quantitative","scale":{"domain":[20,100],"nice":false,"zero":false},"axis":{"title":null,"values":[20,25,30,35,40,45,50,55,60,65,70,75,80,85,90,95,100],"labels":false,"gridOpacity":{"condition":{"test":"datum.value % 20 === 0","value":1},"value":0}}},
"y":{"field":"l","type":"quantitative","scale":{"domain":[80,120],"nice":false,"zero":false},"axis":{"title":null,"values":[80,85,90,95,100,105,110,115,120],"labels":false,"gridOpacity":{"condition":{"test":"datum.value % 10 === 0","value":1},"value":0}}}},
"layer":[
{"transform":[{"filter":"datum.k==='wb'"}],"mark":{"type":"rect","fill":"white"},"encoding":{"x2":{"field":"v2"},"y2":{"field":"l2"}}},
{"transform":[{"filter":"datum.k==='r'"}],"mark":{"type":"circle","color":"#ff0000","size":82,"opacity":1}},
{"transform":[{"filter":"datum.k==='g'"}],"mark":{"type":"circle","color":"#2f9a3c","size":130,"opacity":1}},
{"transform":[{"filter":"datum.k==='b'"}],"mark":{"type":"point","shape":"circle","filled":false,"color":"#0000cc","strokeWidth":2.8,"size":80,"opacity":1}},
{"transform":[{"filter":"datum.k==='o'"}],"mark":{"type":"point","shape":"circle","filled":false,"color":"#ffb900","strokeWidth":4,"size":130,"opacity":1}},
{"transform":[{"filter":"datum.k==='fit'"}],"mark":{"type":"line","color":"#ff0000","strokeWidth":4,"strokeDash":[11,6],"interpolate":"monotone"}},
{"transform":[{"filter":"datum.k==='ref'"}],"mark":{"type":"line","color":"black","strokeWidth":3,"interpolate":"monotone"},"encoding":{"detail":{"field":"s"}}},
{"transform":[{"filter":"datum.k==='lg'"}],"mark":{"type":"rule","color":"#ff0000","strokeWidth":4,"strokeDash":[11,6]},"encoding":{"x2":{"field":"v2"}}},
{"transform":[{"filter":"datum.k==='tb'"}],"mark":{"type":"rect","fill":"black"},"encoding":{"x2":{"field":"v2"},"y2":{"field":"l2"}}},
{"transform":[{"filter":"datum.k==='tt'"}],"mark":{"type":"text","font":"Liberation Sans, Arial, sans-serif","fontWeight":"bold","fontSize":48,"color":"white","align":"center","baseline":"alphabetic"},"encoding":{"text":{"field":"t"}}},
{"transform":[{"filter":"datum.k==='tu'"}],"mark":{"type":"rule","color":"white","strokeWidth":3},"encoding":{"x2":{"field":"v2"}}},
{"transform":[{"filter":"datum.k==='ai'"}],"mark":{"type":"text","font":"Liberation Serif, Times New Roman, serif","fontStyle":"italic","fontSize":36,"color":"black","align":"left","baseline":"alphabetic"},"encoding":{"text":{"field":"t"}}},
{"transform":[{"filter":"datum.k==='an'"}],"mark":{"type":"text","font":"Liberation Serif, Times New Roman, serif","fontSize":36,"color":"black","align":"left","baseline":"alphabetic"},"encoding":{"text":{"field":"t"}}},
{"transform":[{"filter":"datum.k==='as'"}],"mark":{"type":"text","font":"Liberation Serif, Times New Roman, serif","fontSize":24,"color":"black","align":"left","baseline":"alphabetic"},"encoding":{"text":{"field":"t"}}},
{"transform":[{"filter":"datum.k==='asi'"}],"mark":{"type":"text","font":"Liberation Serif, Times New Roman, serif","fontStyle":"italic","fontSize":24,"color":"black","align":"left","baseline":"alphabetic"},"encoding":{"text":{"field":"t"}}}
]},
{"width":695,"height":485,"data":{"name":"d"},"transform":[{"filter":"datum.p==='P'"}],
"encoding":{"x":{"field":"v","type":"quantitative","scale":{"domain":[20,100],"nice":false,"zero":false},"axis":{"title":null,"values":[20,25,30,35,40,45,50,55,60,65,70,75,80,85,90,95,100],"labelExpr":"datum.value % 20 === 0 ? datum.label : ''","labelFontSize":35,"labelPadding":24,"gridOpacity":{"condition":{"test":"datum.value % 20 === 0","value":1},"value":0}}},
"y":{"field":"l","type":"quantitative","scale":{"domain":[80,120],"nice":false,"zero":false},"axis":{"title":null,"values":[80,85,90,95,100,105,110,115,120],"labelExpr":"datum.value % 10 === 0 ? datum.label : ''","labelFontSize":34,"labelPadding":33,"gridOpacity":{"condition":{"test":"datum.value % 10 === 0","value":1},"value":0}}}},
"layer":[
{"transform":[{"filter":"datum.k==='wb'"}],"mark":{"type":"rect","fill":"white"},"encoding":{"x2":{"field":"v2"},"y2":{"field":"l2"}}},
{"transform":[{"filter":"datum.k==='r'"}],"mark":{"type":"circle","color":"#ff0000","size":82,"opacity":1}},
{"transform":[{"filter":"datum.k==='g'"}],"mark":{"type":"circle","color":"#2f9a3c","size":130,"opacity":1}},
{"transform":[{"filter":"datum.k==='b'"}],"mark":{"type":"point","shape":"circle","filled":false,"color":"#0000cc","strokeWidth":2.8,"size":80,"opacity":1}},
{"transform":[{"filter":"datum.k==='o'"}],"mark":{"type":"point","shape":"circle","filled":false,"color":"#ffb900","strokeWidth":4,"size":130,"opacity":1}},
{"transform":[{"filter":"datum.k==='fit'"}],"mark":{"type":"line","color":"#ff0000","strokeWidth":4,"strokeDash":[11,6],"interpolate":"monotone"}},
{"transform":[{"filter":"datum.k==='ref'"}],"mark":{"type":"line","color":"black","strokeWidth":3,"interpolate":"monotone"},"encoding":{"detail":{"field":"s"}}},
{"transform":[{"filter":"datum.k==='lg'"}],"mark":{"type":"rule","color":"#ff0000","strokeWidth":4,"strokeDash":[11,6]},"encoding":{"x2":{"field":"v2"}}},
{"transform":[{"filter":"datum.k==='tb'"}],"mark":{"type":"rect","fill":"black"},"encoding":{"x2":{"field":"v2"},"y2":{"field":"l2"}}},
{"transform":[{"filter":"datum.k==='tt'"}],"mark":{"type":"text","font":"Liberation Sans, Arial, sans-serif","fontWeight":"bold","fontSize":48,"color":"white","align":"center","baseline":"alphabetic"},"encoding":{"text":{"field":"t"}}},
{"transform":[{"filter":"datum.k==='tu'"}],"mark":{"type":"rule","color":"white","strokeWidth":3},"encoding":{"x2":{"field":"v2"}}},
{"transform":[{"filter":"datum.k==='ai'"}],"mark":{"type":"text","font":"Liberation Serif, Times New Roman, serif","fontStyle":"italic","fontSize":36,"color":"black","align":"left","baseline":"alphabetic"},"encoding":{"text":{"field":"t"}}},
{"transform":[{"filter":"datum.k==='an'"}],"mark":{"type":"text","font":"Liberation Serif, Times New Roman, serif","fontSize":36,"color":"black","align":"left","baseline":"alphabetic"},"encoding":{"text":{"field":"t"}}},
{"transform":[{"filter":"datum.k==='as'"}],"mark":{"type":"text","font":"Liberation Serif, Times New Roman, serif","fontSize":24,"color":"black","align":"left","baseline":"alphabetic"},"encoding":{"text":{"field":"t"}}},
{"transform":[{"filter":"datum.k==='asi'"}],"mark":{"type":"text","font":"Liberation Serif, Times New Roman, serif","fontStyle":"italic","fontSize":24,"color":"black","align":"left","baseline":"alphabetic"},"encoding":{"text":{"field":"t"}}},
{"transform":[{"filter":"datum.k==='xi'"}],"mark":{"type":"text","font":"Liberation Serif, Times New Roman, serif","fontStyle":"italic","fontSize":33,"color":"black","align":"left","baseline":"alphabetic"},"encoding":{"text":{"field":"t"}}},
{"transform":[{"filter":"datum.k==='xn'"}],"mark":{"type":"text","font":"Liberation Serif, Times New Roman, serif","fontSize":33,"color":"black","align":"left","baseline":"alphabetic"},"encoding":{"text":{"field":"t"}}},
{"transform":[{"filter":"datum.k==='yi'"}],"mark":{"type":"text","font":"Liberation Serif, Times New Roman, serif","fontStyle":"italic","fontSize":38,"color":"black","align":"left","baseline":"alphabetic","angle":270},"encoding":{"text":{"field":"t"}}},
{"transform":[{"filter":"datum.k==='ys'"}],"mark":{"type":"text","font":"Liberation Serif, Times New Roman, serif","fontSize":26,"color":"black","align":"left","baseline":"alphabetic","angle":270},"encoding":{"text":{"field":"t"}}},
{"transform":[{"filter":"datum.k==='yn'"}],"mark":{"type":"text","font":"Liberation Serif, Times New Roman, serif","fontSize":38,"color":"black","align":"left","baseline":"alphabetic","angle":270},"encoding":{"text":{"field":"t"}}}
]},
{"width":695,"height":485,"data":{"name":"d"},"transform":[{"filter":"datum.p==='Y'"}],
"encoding":{"x":{"field":"v","type":"quantitative","scale":{"domain":[20,100],"nice":false,"zero":false},"axis":{"title":null,"values":[20,25,30,35,40,45,50,55,60,65,70,75,80,85,90,95,100],"labelExpr":"datum.value % 20 === 0 ? datum.label : ''","labelFontSize":35,"labelPadding":24,"gridOpacity":{"condition":{"test":"datum.value % 20 === 0","value":1},"value":0}}},
"y":{"field":"l","type":"quantitative","scale":{"domain":[80,120],"nice":false,"zero":false},"axis":{"title":null,"values":[80,85,90,95,100,105,110,115,120],"labels":false,"gridOpacity":{"condition":{"test":"datum.value % 10 === 0","value":1},"value":0}}}},
"layer":[
{"transform":[{"filter":"datum.k==='wb'"}],"mark":{"type":"rect","fill":"white"},"encoding":{"x2":{"field":"v2"},"y2":{"field":"l2"}}},
{"transform":[{"filter":"datum.k==='r'"}],"mark":{"type":"circle","color":"#ff0000","size":82,"opacity":1}},
{"transform":[{"filter":"datum.k==='g'"}],"mark":{"type":"circle","color":"#2f9a3c","size":130,"opacity":1}},
{"transform":[{"filter":"datum.k==='b'"}],"mark":{"type":"point","shape":"circle","filled":false,"color":"#0000cc","strokeWidth":2.8,"size":80,"opacity":1}},
{"transform":[{"filter":"datum.k==='o'"}],"mark":{"type":"point","shape":"circle","filled":false,"color":"#ffb900","strokeWidth":4,"size":130,"opacity":1}},
{"transform":[{"filter":"datum.k==='fit'"}],"mark":{"type":"line","color":"#ff0000","strokeWidth":4,"strokeDash":[11,6],"interpolate":"monotone"}},
{"transform":[{"filter":"datum.k==='ref'"}],"mark":{"type":"line","color":"black","strokeWidth":3,"interpolate":"monotone"},"encoding":{"detail":{"field":"s"}}},
{"transform":[{"filter":"datum.k==='lg'"}],"mark":{"type":"rule","color":"#ff0000","strokeWidth":4,"strokeDash":[11,6]},"encoding":{"x2":{"field":"v2"}}},
{"transform":[{"filter":"datum.k==='tb'"}],"mark":{"type":"rect","fill":"black"},"encoding":{"x2":{"field":"v2"},"y2":{"field":"l2"}}},
{"transform":[{"filter":"datum.k==='tt'"}],"mark":{"type":"text","font":"Liberation Sans, Arial, sans-serif","fontWeight":"bold","fontSize":48,"color":"white","align":"center","baseline":"alphabetic"},"encoding":{"text":{"field":"t"}}},
{"transform":[{"filter":"datum.k==='tu'"}],"mark":{"type":"rule","color":"white","strokeWidth":3},"encoding":{"x2":{"field":"v2"}}},
{"transform":[{"filter":"datum.k==='ai'"}],"mark":{"type":"text","font":"Liberation Serif, Times New Roman, serif","fontStyle":"italic","fontSize":36,"color":"black","align":"left","baseline":"alphabetic"},"encoding":{"text":{"field":"t"}}},
{"transform":[{"filter":"datum.k==='an'"}],"mark":{"type":"text","font":"Liberation Serif, Times New Roman, serif","fontSize":36,"color":"black","align":"left","baseline":"alphabetic"},"encoding":{"text":{"field":"t"}}},
{"transform":[{"filter":"datum.k==='as'"}],"mark":{"type":"text","font":"Liberation Serif, Times New Roman, serif","fontSize":24,"color":"black","align":"left","baseline":"alphabetic"},"encoding":{"text":{"field":"t"}}},
{"transform":[{"filter":"datum.k==='asi'"}],"mark":{"type":"text","font":"Liberation Serif, Times New Roman, serif","fontStyle":"italic","fontSize":24,"color":"black","align":"left","baseline":"alphabetic"},"encoding":{"text":{"field":"t"}}},
{"transform":[{"filter":"datum.k==='xi'"}],"mark":{"type":"text","font":"Liberation Serif, Times New Roman, serif","fontStyle":"italic","fontSize":33,"color":"black","align":"left","baseline":"alphabetic"},"encoding":{"text":{"field":"t"}}},
{"transform":[{"filter":"datum.k==='xn'"}],"mark":{"type":"text","font":"Liberation Serif, Times New Roman, serif","fontSize":33,"color":"black","align":"left","baseline":"alphabetic"},"encoding":{"text":{"field":"t"}}}
]},
{"width":695,"height":485,"data":{"name":"d"},"transform":[{"filter":"datum.p==='L'"}],
"encoding":{"x":{"field":"v","type":"quantitative","scale":{"domain":[20,100],"nice":false,"zero":false},"axis":{"title":null,"values":[20,25,30,35,40,45,50,55,60,65,70,75,80,85,90,95,100],"labelExpr":"datum.value % 20 === 0 ? datum.label : ''","labelFontSize":35,"labelPadding":24,"gridOpacity":{"condition":{"test":"datum.value % 20 === 0","value":1},"value":0}}},
"y":{"field":"l","type":"quantitative","scale":{"domain":[80,120],"nice":false,"zero":false},"axis":{"title":null,"values":[80,85,90,95,100,105,110,115,120],"labels":false,"gridOpacity":{"condition":{"test":"datum.value % 10 === 0","value":1},"value":0}}}},
"layer":[
{"transform":[{"filter":"datum.k==='wb'"}],"mark":{"type":"rect","fill":"white"},"encoding":{"x2":{"field":"v2"},"y2":{"field":"l2"}}},
{"transform":[{"filter":"datum.k==='r'"}],"mark":{"type":"circle","color":"#ff0000","size":82,"opacity":1}},
{"transform":[{"filter":"datum.k==='g'"}],"mark":{"type":"circle","color":"#2f9a3c","size":130,"opacity":1}},
{"transform":[{"filter":"datum.k==='b'"}],"mark":{"type":"point","shape":"circle","filled":false,"color":"#0000cc","strokeWidth":2.8,"size":80,"opacity":1}},
{"transform":[{"filter":"datum.k==='o'"}],"mark":{"type":"point","shape":"circle","filled":false,"color":"#ffb900","strokeWidth":4,"size":130,"opacity":1}},
{"transform":[{"filter":"datum.k==='fit'"}],"mark":{"type":"line","color":"#ff0000","strokeWidth":4,"strokeDash":[11,6],"interpolate":"monotone"}},
{"transform":[{"filter":"datum.k==='ref'"}],"mark":{"type":"line","color":"black","strokeWidth":3,"interpolate":"monotone"},"encoding":{"detail":{"field":"s"}}},
{"transform":[{"filter":"datum.k==='lg'"}],"mark":{"type":"rule","color":"#ff0000","strokeWidth":4,"strokeDash":[11,6]},"encoding":{"x2":{"field":"v2"}}},
{"transform":[{"filter":"datum.k==='tb'"}],"mark":{"type":"rect","fill":"black"},"encoding":{"x2":{"field":"v2"},"y2":{"field":"l2"}}},
{"transform":[{"filter":"datum.k==='tt'"}],"mark":{"type":"text","font":"Liberation Sans, Arial, sans-serif","fontWeight":"bold","fontSize":48,"color":"white","align":"center","baseline":"alphabetic"},"encoding":{"text":{"field":"t"}}},
{"transform":[{"filter":"datum.k==='tu'"}],"mark":{"type":"rule","color":"white","strokeWidth":3},"encoding":{"x2":{"field":"v2"}}},
{"transform":[{"filter":"datum.k==='ai'"}],"mark":{"type":"text","font":"Liberation Serif, Times New Roman, serif","fontStyle":"italic","fontSize":36,"color":"black","align":"left","baseline":"alphabetic"},"encoding":{"text":{"field":"t"}}},
{"transform":[{"filter":"datum.k==='an'"}],"mark":{"type":"text","font":"Liberation Serif, Times New Roman, serif","fontSize":36,"color":"black","align":"left","baseline":"alphabetic"},"encoding":{"text":{"field":"t"}}},
{"transform":[{"filter":"datum.k==='as'"}],"mark":{"type":"text","font":"Liberation Serif, Times New Roman, serif","fontSize":24,"color":"black","align":"left","baseline":"alphabetic"},"encoding":{"text":{"field":"t"}}},
{"transform":[{"filter":"datum.k==='asi'"}],"mark":{"type":"text","font":"Liberation Serif, Times New Roman, serif","fontStyle":"italic","fontSize":24,"color":"black","align":"left","baseline":"alphabetic"},"encoding":{"text":{"field":"t"}}},
{"transform":[{"filter":"datum.k==='xi'"}],"mark":{"type":"text","font":"Liberation Serif, Times New Roman, serif","fontStyle":"italic","fontSize":33,"color":"black","align":"left","baseline":"alphabetic"},"encoding":{"text":{"field":"t"}}},
{"transform":[{"filter":"datum.k==='xn'"}],"mark":{"type":"text","font":"Liberation Serif, Times New Roman, serif","fontSize":33,"color":"black","align":"left","baseline":"alphabetic"},"encoding":{"text":{"field":"t"}}}
]}
],
"config":{
"view":{"stroke":"black","strokeWidth":2},
"axis":{"domainColor":"#8c8c8c","domainWidth":3,"gridColor":"#9a9a9a","gridWidth":2,"tickColor":"#8c8c8c","tickWidth":2,"tickSize":-8,"labelFont":"Liberation Serif, Times New Roman, serif","labelColor":"black","labelFlush":false,"labelOverlap":false,"labelBound":false}
}
}
